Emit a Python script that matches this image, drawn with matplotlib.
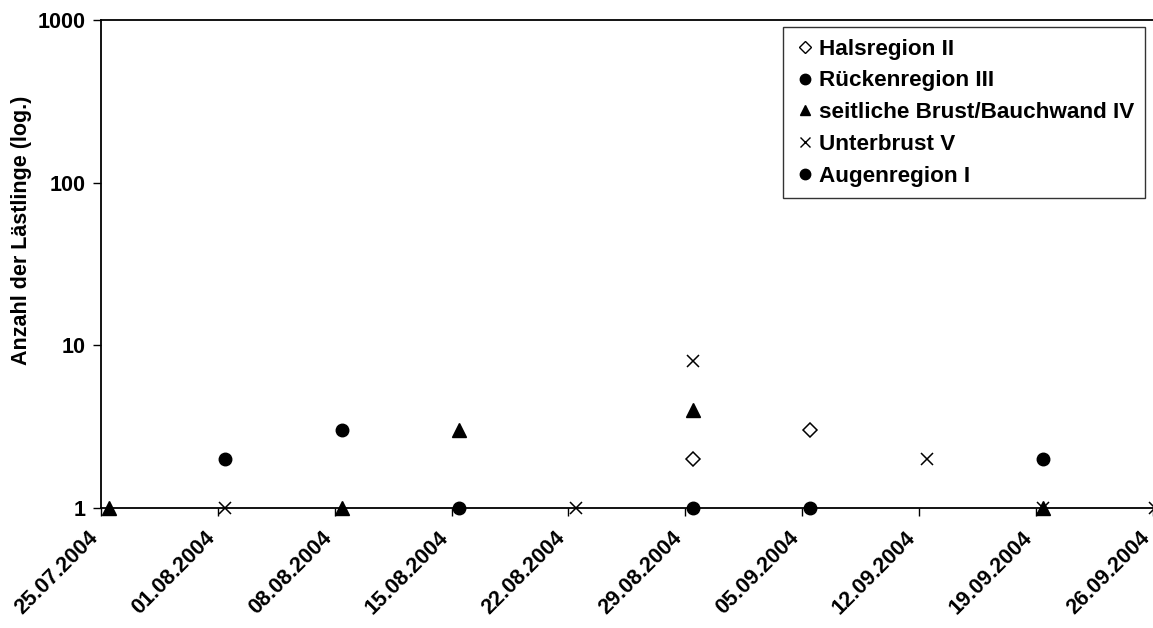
import numpy as np
import pandas as pd
import matplotlib
matplotlib.use("Agg")
import matplotlib.pyplot as plt
import matplotlib.dates as mdates
from matplotlib.lines import Line2D

plt.rcParams.update({
    "font.family": ["Liberation Sans", "DejaVu Sans"],
    "font.weight": "bold",
    "axes.linewidth": 1.3,
})

# Sampling dates (points sit about half a day right of the week ticks)
hals_dates = ["2004-08-29 11:00", "2004-09-05 11:00"]
hals_vals = [2, 3]

ruecken_dates = ["2004-08-01 11:00", "2004-08-08 11:00", "2004-09-19 11:00"]
ruecken_vals = [2, 3, 2]

seit_dates = ["2004-07-25 11:00", "2004-08-08 11:00", "2004-08-15 11:00",
              "2004-08-29 11:00", "2004-09-19 11:00"]
seit_vals = [1, 1, 3, 4, 1]

unter_dates = ["2004-08-01 11:00", "2004-08-22 11:00", "2004-08-29 11:00",
               "2004-09-12 11:00", "2004-09-19 11:00", "2004-09-26 03:00"]
unter_vals = [1, 1, 8, 2, 1, 1]

augen_dates = ["2004-08-15 11:00", "2004-08-29 11:00", "2004-09-05 11:00"]
augen_vals = [1, 1, 1]

week_ticks = pd.date_range("2004-07-25", "2004-09-26", freq="7D")

fig = plt.figure(figsize=(11.53, 6.28), dpi=100)
ax = fig.add_axes([0.0876, 0.191, 0.912, 0.777])

def dts(lst):
    return mdates.date2num(pd.to_datetime(lst))

ax.plot(dts(hals_dates), hals_vals, "D", ms=7.5, mfc="white", mec="black",
        mew=1.1, ls="none", clip_on=False, zorder=3)
ax.plot(dts(ruecken_dates), ruecken_vals, "o", ms=9, color="black",
        ls="none", clip_on=False, zorder=3)
ax.plot(dts(seit_dates), seit_vals, "^", ms=9.5, color="black",
        ls="none", clip_on=False, zorder=3)
ax.plot(dts(unter_dates), unter_vals, "x", ms=9, color="black", mew=1.1,
        ls="none", clip_on=False, zorder=3)
ax.plot(dts(augen_dates), augen_vals, "o", ms=9, color="black",
        ls="none", clip_on=False, zorder=3)

ax.set_yscale("log")
ax.set_ylim(1, 1000)
ax.set_yticks([1, 10, 100, 1000])
ax.set_yticklabels(["1", "10", "100", "1000"])
ax.yaxis.set_minor_locator(matplotlib.ticker.NullLocator())
ax.set_xlim(mdates.date2num(week_ticks[0]), mdates.date2num(week_ticks[-1]))
ax.set_xticks(mdates.date2num(week_ticks))
ax.set_xticklabels([])
# rotated date labels, placed by hand so their ends sit just left of the ticks
for d in week_ticks:
    ax.annotate(d.strftime("%d.%m.%Y"), xy=(mdates.date2num(d), 0),
                xycoords=ax.get_xaxis_transform(), xytext=(-4.5, -19),
                textcoords="offset points", rotation=45, ha="right", va="center",
                rotation_mode="anchor", fontsize=15.5, fontweight="bold",
                annotation_clip=False)
for lab in ax.get_yticklabels():
    lab.set_fontsize(15.5)
    lab.set_fontweight("bold")
ax.tick_params(axis="both", direction="out", length=6, width=1.0, color="black")
ax.tick_params(axis="y", pad=5)
ax.spines["right"].set_visible(False)
ax.set_ylabel("Anzahl der Lästlinge (log.)", fontsize=15.5, fontweight="bold")
ax.yaxis.set_label_coords(-0.066, 0.57)

handles = [
    Line2D([], [], marker="D", ls="none", ms=6, mfc="white", mec="black", mew=1.0,
           label="Halsregion II"),
    Line2D([], [], marker="o", ls="none", ms=7.5, color="black",
           label="Rückenregion III"),
    Line2D([], [], marker="^", ls="none", ms=7.5, color="black",
           label="seitliche Brust/Bauchwand IV"),
    Line2D([], [], marker="x", ls="none", ms=7, color="black", mew=1.0,
           label="Unterbrust V"),
    Line2D([], [], marker="o", ls="none", ms=7.5, color="black",
           label="Augenregion I"),
]
leg = ax.legend(handles=handles, loc="upper right", bbox_to_anchor=(0.993, 0.985),
                prop={"size": 16.2, "weight": "bold"}, frameon=True, fancybox=False,
                edgecolor="black", handlelength=1.0, handletextpad=0.1,
                labelspacing=0.48, borderpad=0.5, borderaxespad=0)
leg.get_frame().set_linewidth(1.0)

fig.savefig("out.png", dpi=100)
